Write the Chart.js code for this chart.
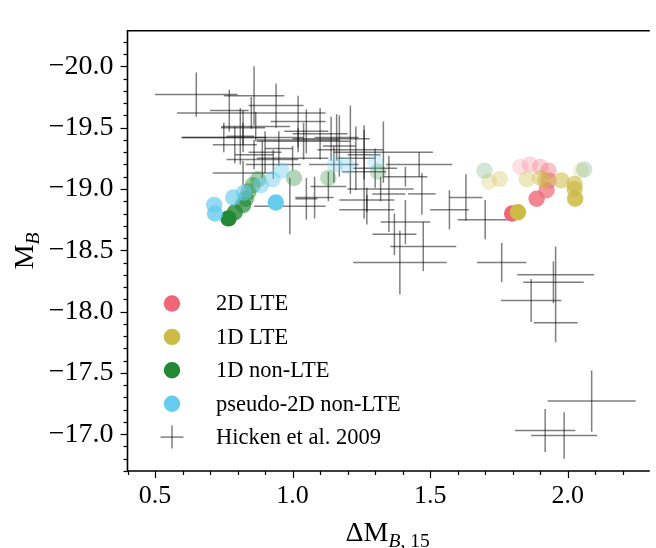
<!DOCTYPE html>
<html>
<head>
<meta charset="utf-8">
<script src="https://cdn.jsdelivr.net/npm/chart.js@4.4.1/dist/chart.umd.min.js"></script>
<style>
  html, body { margin: 0; padding: 0; background: #fff; }
  #wrap { width: 656px; height: 548px; }
</style>
</head>
<body>
<div id="wrap"><canvas id="chart" width="656" height="548"></canvas></div>
<script>
// model tracks: x = dM_B15, y = M_B, a = opacity of each marker
var lte2dX = [1.798, 1.887, 1.923, 1.930, 1.930, 1.900, 1.863, 1.828];
var lte2dY = [-18.80, -18.92, -18.99, -19.07, -19.15, -19.18, -19.20, -19.18];
var lte2dA = [1.0, 0.8, 0.7, 0.55, 0.4, 0.3, 0.25, 0.2];

var lte1dX = [1.819, 2.027, 2.025, 2.025, 1.977, 1.917, 1.900, 1.851, 1.753, 1.714, 2.048];
var lte1dY = [-18.81, -18.92, -19.00, -19.04, -19.07, -19.07, -19.09, -19.08, -19.08, -19.06, -19.15];
var lte1dA = [1.0, 0.85, 0.7, 0.6, 0.55, 0.5, 0.4, 0.35, 0.3, 0.25, 0.2];

var nlte1dX = [0.767, 0.790, 0.820, 0.830, 0.840, 0.855, 0.875, 1.005, 1.130, 1.310, 1.697, 2.060];
var nlte1dY = [-18.76, -18.81, -18.87, -18.92, -18.98, -19.03, -19.08, -19.09, -19.09, -19.14, -19.15, -19.16];
var nlte1dA = [1.0, 0.8, 0.7, 0.6, 0.5, 0.45, 0.4, 0.35, 0.3, 0.25, 0.2, 0.2];

var nlte2dX = [0.939, 0.718, 0.715, 0.784, 0.823, 0.885, 0.927, 0.960, 1.154, 1.198, 1.300];
var nlte2dY = [-18.89, -18.80, -18.87, -18.93, -18.97, -19.03, -19.08, -19.15, -19.20, -19.19, -19.22];
var nlte2dA = [1.0, 0.8, 0.7, 0.65, 0.6, 0.5, 0.45, 0.4, 0.3, 0.3, 0.25];

// Hicken et al. 2009 with symmetric errors
var hickenX = [0.65, 0.86, 0.85, 0.77, 0.94, 0.82, 0.75, 1.02, 1.05, 1.10, 1.14, 0.79, 0.81, 0.86, 0.89, 0.93,
  0.82, 1.15, 1.26, 1.13, 1.08, 0.99, 1.05, 1.21, 1.17, 1.23, 0.90, 0.95, 1.16, 1.33, 1.30, 1.27, 1.46, 1.35,
  1.41, 1.47, 1.63, 1.57, 1.70, 1.41, 1.37, 1.475, 1.39, 1.76, 1.956, 1.948, 1.867, 1.956, 2.087, 1.918, 1.987,
  1.02, 0.82, 1.04, 1.00, 1.32, 1.27, 1.26, 0.866];
var hickenY = [-19.77, -19.76, -19.62, -19.64, -19.68, -19.50, -19.42, -19.55, -19.47, -19.45, -19.41, -19.36,
  -19.43, -19.28, -19.24, -19.20, -19.13, -19.20, -19.14, -19.02, -18.93, -18.86, -18.92, -19.32, -19.35, -19.25,
  -19.30, -19.33, -19.42, -19.30, -19.17, -18.83, -19.20, -18.96, -19.10, -18.96, -18.93, -18.83, -18.75, -18.73,
  -18.63, -18.53, -18.40, -18.40, -18.30, -18.24, -18.09, -17.91, -17.27, -17.03, -16.99,
  -19.40, -19.42, -19.39, -19.25, -19.00, -18.91, -19.28, -19.51];
var hickenXErr = [0.15, 0.11, 0.27, 0.07, 0.10, 0.08, 0.155, 0.10, 0.08, 0.10, 0.14, 0.08, 0.05, 0.07, 0.13, 0.10,
  0.11, 0.09, 0.08, 0.065, 0.07, 0.13, 0.04, 0.12, 0.06, 0.07, 0.06, 0.05, 0.08, 0.18, 0.08, 0.10, 0.12, 0.06,
  0.08, 0.05, 0.06, 0.07, 0.10, 0.09, 0.08, 0.12, 0.17, 0.09, 0.14, 0.11, 0.11, 0.08, 0.16, 0.11, 0.12,
  0.15, 0.22, 0.17, 0.13, 0.12, 0.10, 0.06, 0.125];
var hickenYErr = [0.18, 0.24, 0.13, 0.17, 0.18, 0.14, 0.12, 0.21, 0.18, 0.21, 0.18, 0.15, 0.23, 0.12, 0.15, 0.12,
  0.10, 0.15, 0.38, 0.12, 0.17, 0.23, 0.17, 0.36, 0.25, 0.26, 0.17, 0.14, 0.19, 0.25, 0.16, 0.12, 0.10, 0.31,
  0.08, 0.17, 0.19, 0.16, 0.16, 0.18, 0.17, 0.20, 0.26, 0.16, 0.23, 0.17, 0.175, 0.16, 0.25, 0.175, 0.19,
  0.10, 0.12, 0.15, 0.10, 0.10, 0.10, 0.20, 0.12];

var seriesNames = ['2D LTE', '1D LTE', '1D non-LTE', 'pseudo-2D non-LTE', 'Hicken et al. 2009'];
var seriesColors = ['238,102,119', '204,187,68', '34,136,51', '102,204,238'];

var xTicks = [0.5, 1.0, 1.5, 2.0];
var yTicks = [-20.0, -19.5, -19.0, -18.5, -18.0, -17.5, -17.0];

var SERIF = "'Liberation Serif', 'Times New Roman', serif";

function pts(xs, ys) {
  return xs.map(function (x, i) { return { x: x, y: ys[i] }; });
}
function fills(rgb, alphas) {
  return alphas.map(function (a) { return 'rgba(' + rgb + ',' + a + ')'; });
}
function modelSet(i, xs, ys, as) {
  return {
    label: seriesNames[i],
    data: pts(xs, ys),
    backgroundColor: fills(seriesColors[i], as),
    borderWidth: 0,
    pointRadius: 8.2,
    pointHoverRadius: 8.2,
    order: 4 - i
  };
}

var errorBars = {
  id: 'errorBars',
  beforeDatasetsDraw: function (chart) {
    var ctx = chart.ctx, xs = chart.scales.x, ys = chart.scales.y;
    ctx.save();
    ctx.strokeStyle = 'rgba(0,0,0,0.5)';
    ctx.lineWidth = 1.5;
    for (var i = 0; i < hickenX.length; i++) {
      var cx = xs.getPixelForValue(hickenX[i]), cy = ys.getPixelForValue(hickenY[i]);
      ctx.beginPath();
      ctx.moveTo(xs.getPixelForValue(hickenX[i] - hickenXErr[i]), cy);
      ctx.lineTo(xs.getPixelForValue(hickenX[i] + hickenXErr[i]), cy);
      ctx.stroke();
      ctx.beginPath();
      ctx.moveTo(cx, ys.getPixelForValue(hickenY[i] - hickenYErr[i]));
      ctx.lineTo(cx, ys.getPixelForValue(hickenY[i] + hickenYErr[i]));
      ctx.stroke();
    }
    ctx.restore();
  }
};

function drawSub(ctx, x, y, parts) {
  // parts: [text, font, dy]
  var w = 0;
  parts.forEach(function (p) { ctx.font = p[1]; w += ctx.measureText(p[0]).width; });
  var cx = x - w / 2;
  parts.forEach(function (p) {
    ctx.font = p[1];
    ctx.fillText(p[0], cx, y + p[2]);
    cx += ctx.measureText(p[0]).width;
  });
}

var frameAndDecor = {
  id: 'frameAndDecor',
  afterDraw: function (chart) {
    var ctx = chart.ctx, a = chart.chartArea, xs = chart.scales.x, ys = chart.scales.y;
    ctx.save();
    // ticks
    ctx.strokeStyle = '#000';
    ctx.lineWidth = 1.2;
    for (var i = 4; i <= 22; i++) {
      var px = Math.round(xs.getPixelForValue(i / 10)) + 0.5;
      var len = i % 5 === 0 ? 7 : 4;
      ctx.beginPath(); ctx.moveTo(px, a.bottom); ctx.lineTo(px, a.bottom + len); ctx.stroke();
    }
    for (var j = -202; j <= -167; j++) {
      var py = Math.round(ys.getPixelForValue(j / 10)) + 0.5;
      var l2 = j % 5 === 0 ? 7 : 4;
      ctx.beginPath(); ctx.moveTo(a.left, py); ctx.lineTo(a.left - l2, py); ctx.stroke();
    }
    // frame (right spine falls outside the picture)
    ctx.lineWidth = 1.6;
    ctx.beginPath();
    ctx.moveTo(a.right + 2, a.top); ctx.lineTo(a.left, a.top);
    ctx.lineTo(a.left, a.bottom); ctx.lineTo(a.right + 2, a.bottom);
    ctx.stroke();

    // legend
    ctx.textBaseline = 'middle';
    ctx.textAlign = 'left';
    ctx.fillStyle = '#000';
    var lx = a.left + 44.5, tx = a.left + 88.5, ly = 303.5, step = 33.4;
    for (var k = 0; k < seriesNames.length; k++) {
      var yy = ly + k * step;
      if (k < 4) {
        ctx.fillStyle = 'rgb(' + seriesColors[k] + ')';
        ctx.beginPath(); ctx.arc(lx, yy, 8.2, 0, Math.PI * 2); ctx.fill();
      } else {
        ctx.strokeStyle = 'rgba(0,0,0,0.5)';
        ctx.lineWidth = 1.5;
        ctx.beginPath(); ctx.moveTo(lx - 11.5, yy); ctx.lineTo(lx + 11.5, yy); ctx.stroke();
        ctx.beginPath(); ctx.moveTo(lx, yy - 11.5); ctx.lineTo(lx, yy + 11.5); ctx.stroke();
      }
      ctx.fillStyle = '#000';
      ctx.font = '22.5px ' + SERIF;
      ctx.fillText(seriesNames[k], tx, yy + 1);
    }

    // axis titles
    ctx.textBaseline = 'alphabetic';
    ctx.fillStyle = '#000';
    var big = '28px ' + SERIF, subI = 'italic 19.5px ' + SERIF, sub = '19.5px ' + SERIF;
    drawSub(ctx, (a.left + a.right) / 2, 541, [['\u0394M', big, 0], ['B', subI, 6], [', 15', sub, 6]]);
    ctx.translate(33, (a.top + a.bottom) / 2);
    ctx.rotate(-Math.PI / 2);
    drawSub(ctx, 0, 0, [['M', big, 0], ['B', subI, 6]]);
    ctx.restore();
  }
};

function fmt(v) { return (v < 0 ? '\u2212' : '') + Math.abs(v).toFixed(1); }

new Chart(document.getElementById('chart'), {
  type: 'scatter',
  data: {
    datasets: [
      modelSet(0, lte2dX, lte2dY, lte2dA),
      modelSet(1, lte1dX, lte1dY, lte1dA),
      modelSet(2, nlte1dX, nlte1dY, nlte1dA),
      modelSet(3, nlte2dX, nlte2dY, nlte2dA),
      { label: seriesNames[4], data: pts(hickenX, hickenY), pointRadius: 0, order: 10 }
    ]
  },
  options: {
    responsive: false,
    animation: false,
    devicePixelRatio: 1,
    layout: { padding: { top: 10, right: 0, left: 0, bottom: 0 } },
    plugins: { legend: { display: false }, tooltip: { enabled: false } },
    scales: {
      x: {
        type: 'linear', min: 0.4, max: 2.291,
        grid: { display: false, drawTicks: false },
        border: { display: false },
        ticks: { font: { family: SERIF, size: 26 }, color: '#000', padding: 10, callback: fmt },
        afterBuildTicks: function (s) { s.ticks = xTicks.map(function (v) { return { value: v }; }); },
        afterFit: function (s) { s.height = 77; }
      },
      y: {
        type: 'linear', min: -20.29, max: -16.70, reverse: true,
        grid: { display: false, drawTicks: false },
        border: { display: false },
        ticks: { font: { family: SERIF, size: 28 }, color: '#000', padding: 14, callback: fmt },
        afterBuildTicks: function (s) { s.ticks = yTicks.map(function (v) { return { value: v }; }); },
        afterFit: function (s) { s.width = 127.5; }
      }
    }
  },
  plugins: [errorBars, frameAndDecor]
});
</script>
</body>
</html>
